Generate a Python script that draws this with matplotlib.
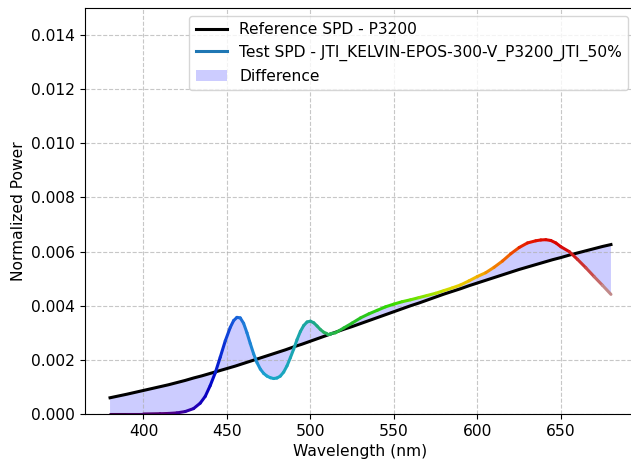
import numpy as np
import matplotlib
matplotlib.use("Agg")
import matplotlib.pyplot as plt
from matplotlib.collections import LineCollection
from matplotlib.colors import LinearSegmentedColormap
from matplotlib.lines import Line2D
from matplotlib.patches import Patch

plt.rcParams["font.size"] = 11.2

ref_wavelengths = np.arange(380, 681, 5)
reference_spd = [
    0.00060, 0.000665, 0.00073, 0.00080, 0.00087, 0.00094, 0.00101, 0.00108,
    0.00116, 0.00124, 0.00133, 0.00141, 0.00150, 0.00159, 0.00168, 0.00177,
    0.00187, 0.00197, 0.00207, 0.00217, 0.00227, 0.00237, 0.00248, 0.00258,
    0.00269, 0.00280, 0.00291, 0.00302, 0.00313, 0.00323, 0.00334, 0.00345,
    0.00356, 0.00367, 0.00378, 0.00389, 0.00400, 0.00410, 0.00421, 0.00432,
    0.00443, 0.00453, 0.00463, 0.00474, 0.00484, 0.00494, 0.00504, 0.00514,
    0.00524, 0.00534, 0.00543, 0.00552, 0.00561, 0.00570, 0.00578, 0.00587,
    0.00595, 0.00603, 0.00611, 0.00619, 0.00626,
]

test_wavelengths = [
    380, 390, 400, 410, 415, 420, 425, 430, 434, 437, 440, 443, 446, 449,
    452, 454, 456, 458, 460, 462, 464, 466, 468, 470, 472, 474, 476, 478,
    480, 482, 484, 486, 488, 490, 492, 494, 496, 498, 500, 502, 504, 506,
    508, 510, 512, 515, 520, 525, 530, 535, 540, 545, 550, 555, 560, 565,
    570, 575, 580, 585, 590, 595, 600, 605, 610, 615, 620, 625, 630, 635,
    638, 641, 644, 647, 650, 655, 660, 665, 670, 675, 680,
]
test_spd = [
    0.0, 0.0, 0.0, 0.00001, 0.00002, 0.00004, 0.00009, 0.00020, 0.00040,
    0.00065, 0.00105, 0.00152, 0.00210, 0.00270, 0.00320, 0.00345, 0.00357,
    0.00355, 0.00335, 0.00300, 0.00260, 0.00222, 0.00190, 0.00166, 0.00150,
    0.00140, 0.00134, 0.00131, 0.00133, 0.00140, 0.00155, 0.00178, 0.00208,
    0.00240, 0.00275, 0.00305, 0.00327, 0.00340, 0.00343, 0.00337, 0.00325,
    0.00312, 0.00302, 0.00297, 0.00297, 0.00300, 0.00318, 0.00336, 0.00355,
    0.00370, 0.00383, 0.00396, 0.00406, 0.00415, 0.00422, 0.00430, 0.00438,
    0.00446, 0.00456, 0.00466, 0.00477, 0.00492, 0.00508, 0.00522, 0.00542,
    0.00565, 0.00592, 0.00615, 0.00632, 0.00640, 0.00643, 0.00644, 0.00641,
    0.00632, 0.00618, 0.00600, 0.00571, 0.00540, 0.00507, 0.00475, 0.00442,
]

ref_label = "Reference SPD - P3200"
test_label = "Test SPD - JTI_KELVIN-EPOS-300-V_P3200_JTI_50%"
diff_label = "Difference"

# wavelength -> display colour stops
color_stops_nm = [380, 415, 430, 440, 450, 460, 475, 490, 500, 510, 525, 550,
                  570, 585, 600, 615, 630, 650, 665, 680]
color_stops_rgb = [(0.25, 0.0, 0.30), (0.35, 0.0, 0.50), (0.15, 0.0, 0.70),
                   (0.0, 0.0, 0.78), (0.05, 0.25, 0.85), (0.12, 0.47, 0.85),
                   (0.10, 0.65, 0.80), (0.10, 0.65, 0.70), (0.10, 0.65, 0.60),
                   (0.15, 0.70, 0.35), (0.15, 0.75, 0.15), (0.20, 0.85, 0.0),
                   (0.55, 0.90, 0.0), (0.88, 0.85, 0.0), (0.95, 0.70, 0.0),
                   (0.95, 0.45, 0.0), (0.90, 0.10, 0.0), (0.85, 0.0, 0.0),
                   (0.80, 0.20, 0.20), (0.75, 0.60, 0.60)]
lo, hi = color_stops_nm[0], color_stops_nm[-1]
cmap = LinearSegmentedColormap.from_list(
    "spec", [((w - lo) / (hi - lo), c) for w, c in zip(color_stops_nm, color_stops_rgb)])

fig = plt.figure(figsize=(6.31, 4.61), dpi=100)
ax = fig.add_axes([85 / 631, 47 / 461, 551 / 631, 406 / 461])

rwl = np.asarray(ref_wavelengths, dtype=float)
ref = np.asarray(reference_spd)
twl = np.asarray(test_wavelengths, dtype=float)
test = np.asarray(test_spd)

# difference area: polygon between the two curves
ax.fill(np.concatenate([twl, rwl[::-1]]), np.concatenate([test, ref[::-1]]),
        color="blue", alpha=0.2, linewidth=0)
ax.plot(rwl, ref, color="black", linewidth=2.2)

pts = np.column_stack([twl, test]).reshape(-1, 1, 2)
segs = np.concatenate([pts[:-1], pts[1:]], axis=1)
mids = (twl[:-1] + twl[1:]) / 2
lc = LineCollection(segs, colors=cmap((mids - lo) / (hi - lo)), linewidth=2.2,
                    capstyle="round", joinstyle="round")
ax.add_collection(lc)

ax.set_xlim(365, 695)
ax.set_ylim(0, 0.015)
ax.set_xlabel("Wavelength (nm)")
ax.set_ylabel("Normalized Power")
ax.grid(True, linestyle="--", alpha=0.7)

handles = [Line2D([], [], color="black", linewidth=2.2),
           Line2D([], [], color="#1f77b4", linewidth=2.2),
           Patch(facecolor="blue", alpha=0.2)]
ax.legend(handles, [ref_label, test_label, diff_label], loc="upper right")

fig.savefig("out.png", dpi=100)
